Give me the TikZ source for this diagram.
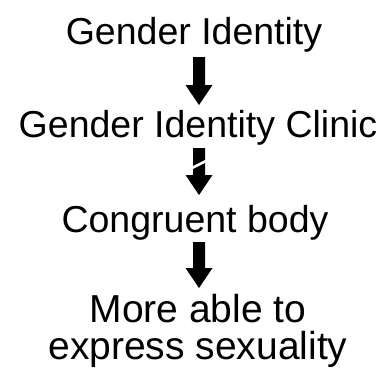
\documentclass[tikz,border=0pt]{standalone}
\usepackage{fontspec}
\setmainfont{Liberation Sans}
\usetikzlibrary{calc}
\tikzset{
  lbl/.style={anchor=base, inner sep=0pt, font=\fontsize{37.5}{36}\selectfont, align=center},
  blk/.style={fill=black, draw=none},
}
\newcommand\blockarrow[2]{%
  \fill[blk] ($(#1)+(-6,0)$) -- ($(#1)+(6,0)$) -- ($(#2)+(6,-20)$) -- ($(#2)+(13.5,-20)$)
    -- (#2) -- ($(#2)+(-13.5,-20)$) -- ($(#2)+(-6,-20)$) -- cycle;}
\begin{document}
\begin{tikzpicture}[x=1pt,y=-1pt]
\useasboundingbox (0,0) rectangle (387,369);
\node[lbl] (gi) at (194,45) {Gender Identity};
\node[lbl] (gic) at (198,137) {Gender Identity Clinic};
\node[lbl] (cb) at (195,232) {Congruent body};
\node[lbl, font=\fontsize{39}{37}\selectfont] (ma) at (198,359) {More able to\\express sexuality};
\coordinate (a1s) at (199,57);
\coordinate (a1e) at (199,105);
\coordinate (a2s) at (199,148);
\coordinate (a2e) at (199,195);
\coordinate (a3s) at (199,242);
\coordinate (a3e) at (199,288);
\blockarrow{a1s}{a1e}
\blockarrow{a2s}{a2e}
\blockarrow{a3s}{a3e}
\coordinate (g1) at (190,169);
\coordinate (g2) at (208,160);
\draw[white, line width=2.5pt] (g1) -- (g2);
\end{tikzpicture}
\end{document}
